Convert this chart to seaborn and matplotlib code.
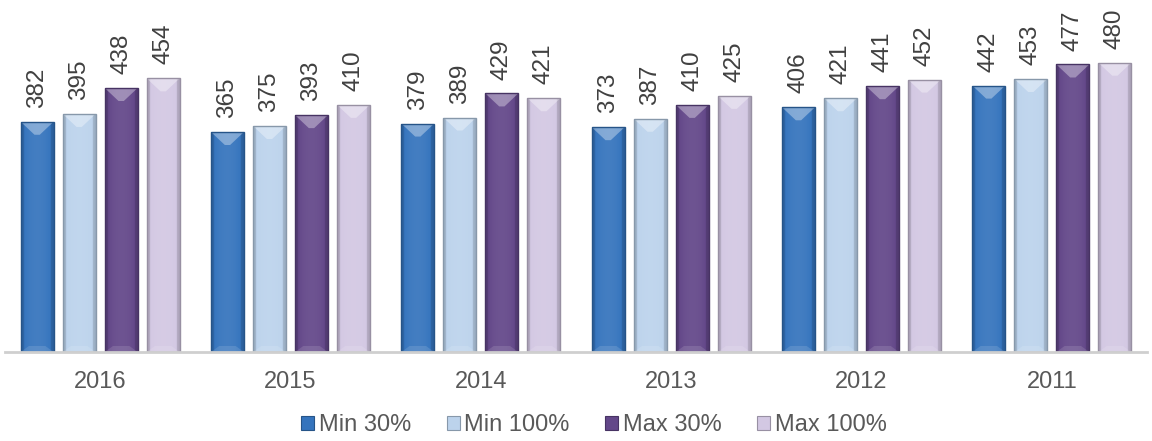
import numpy as np
import pandas as pd
import matplotlib
matplotlib.use("Agg")
import matplotlib.pyplot as plt
import matplotlib.colors as mcolors
from matplotlib.patches import Polygon, Rectangle
import seaborn as sns

years = ["2016", "2015", "2014", "2013", "2012", "2011"]
series = ["Min 30%", "Min 100%", "Max 30%", "Max 100%"]
min30 = [382, 365, 379, 373, 406, 442]
min100 = [395, 375, 389, 387, 421, 453]
max30 = [438, 393, 429, 410, 441, 477]
max100 = [454, 410, 421, 425, 452, 480]
colors = ["#3574bd", "#bcd3ec", "#634789", "#d3c8e3"]

rows = []
for name, vals in zip(series, [min30, min100, max30, max100]):
    for y, v in zip(years, vals):
        rows.append({"year": y, "series": name, "value": v})
df = pd.DataFrame(rows)

sns.set_theme(style="white")
plt.rcParams["font.family"] = ["Liberation Sans", "DejaVu Sans"]

W, H = 1152, 441
fig = plt.figure(figsize=(W / 100, H / 100), dpi=100)
ax = fig.add_axes([5 / W, 1 - 352 / H, 1142 / W, 352 / H])

sns.barplot(data=df, x="year", y="value", hue="series", order=years,
            hue_order=series, palette=colors, width=0.883, gap=0.216,
            saturation=1, ax=ax, legend=False, err_kws={"linewidth": 0})

YMAX = 584
ax.set_xlim(-0.5, 5.5)
ax.set_ylim(0, YMAX)
px_per_unit = 352 / YMAX


def shade(c, f):
    c = np.array(mcolors.to_rgb(c))
    if f >= 1:
        return np.clip(c + (1 - c) * (f - 1), 0, 1)
    return np.clip(c * f, 0, 1)


for ci, cont in enumerate(ax.containers):
    base = colors[ci]
    for p in cont.patches:
        x, w, h = p.get_x(), p.get_width(), p.get_height()
        n = 64
        t = np.linspace(-1, 1, n)
        prof = 0.97 + 0.10 * (1 - t ** 2) - 0.15 * (np.abs(t) > 0.82)
        grad = np.array([shade(base, f) for f in prof])[None, :, :]
        im = ax.imshow(grad, extent=[x, x + w, 0, h], aspect="auto",
                       interpolation="bilinear", zorder=p.get_zorder() + 0.1)
        im.set_clip_path(p)
        dv = 13 / px_per_unit
        top = h
        tri = Polygon([(x, top), (x + w, top), (x + w * 0.58, top - dv),
                       (x + w * 0.42, top - dv)], closed=True,
                      facecolor="white", alpha=0.35, edgecolor="none",
                      zorder=p.get_zorder() + 0.2)
        ax.add_patch(tri)
        bot = Polygon([(x, 0), (x + w, 0), (x + w * 0.75, 6 / px_per_unit),
                       (x + w * 0.25, 6 / px_per_unit)], closed=True,
                      facecolor="white", alpha=0.12, edgecolor="none",
                      zorder=p.get_zorder() + 0.2)
        ax.add_patch(bot)
        edge = Rectangle((x, 0), w, h, facecolor="none",
                         edgecolor=shade(base, 0.72), linewidth=1.0,
                         zorder=p.get_zorder() + 0.3)
        ax.add_patch(edge)
    ax.bar_label(cont, labels=[str(int(v)) for v in cont.datavalues],
                 rotation=90, padding=10, fontsize=17.5, color="#404040")

ax.set_xlim(-0.5, 5.5)
ax.set_ylim(0, YMAX)
ax.set_xlabel("")
ax.set_ylabel("")
ax.set_yticks([])
for s in ["top", "right", "left"]:
    ax.spines[s].set_visible(False)
ax.spines["bottom"].set_color("#cfcfcf")
ax.spines["bottom"].set_linewidth(2)
ax.tick_params(axis="x", length=0, pad=14, labelsize=17, labelcolor="#595959")

handles = [Rectangle((0, 0), 1, 1, facecolor=c, edgecolor=shade(c, 0.72),
                     linewidth=0.8) for c in colors]
fig.legend(handles, series, loc="center", bbox_to_anchor=(594 / W, 1 - 425 / H),
           ncol=4, frameon=False, fontsize=17, handlelength=0.55,
           handleheight=0.55, handletextpad=0.2, columnspacing=1.5,
           labelcolor="#595959", borderaxespad=0, borderpad=0)

fig.savefig("out.png", dpi=100)
